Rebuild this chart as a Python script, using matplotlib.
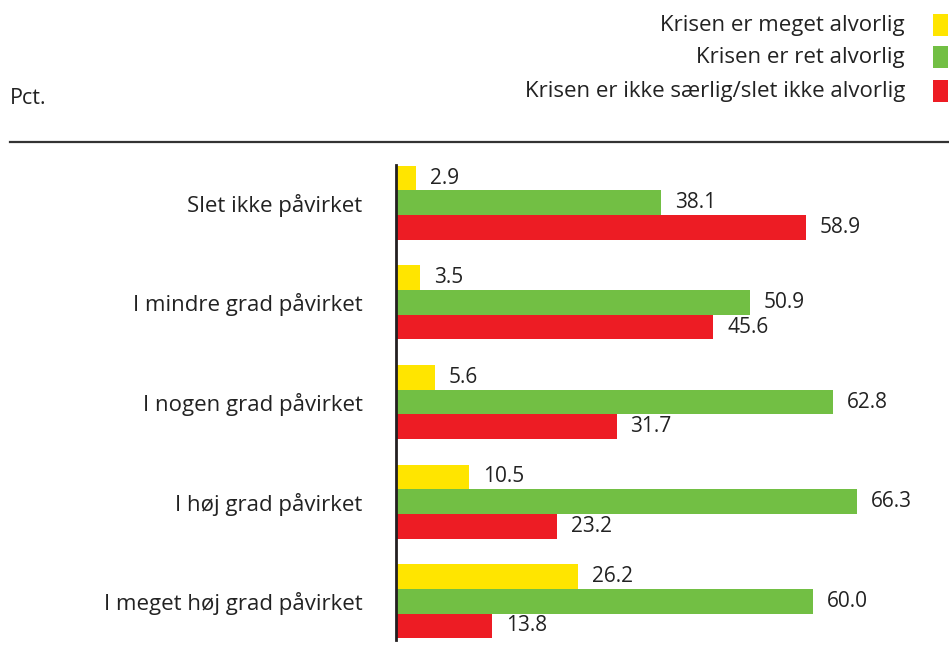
import matplotlib.pyplot as plt
from matplotlib.patches import Rectangle
from matplotlib.lines import Line2D

plt.rcParams['font.family'] = ['Open Sans', 'DejaVu Sans']

categories = ['Slet ikke påvirket', 'I mindre grad påvirket', 'I nogen grad påvirket',
              'I høj grad påvirket', 'I meget høj grad påvirket']
series_names = ['Krisen er meget alvorlig', 'Krisen er ret alvorlig',
                'Krisen er ikke særlig/slet ikke alvorlig']
meget = [2.9, 3.5, 5.6, 10.5, 26.2]
ret = [38.1, 50.9, 62.8, 66.3, 60.0]
ikke = [58.9, 45.6, 31.7, 23.2, 13.8]
colors = ['#FFE500', '#72BF44', '#ED1C24']

W, H = 949, 657
fig = plt.figure(figsize=(W / 100, H / 100), dpi=100)
ax = fig.add_axes([396 / W, 1 - 640 / H, 1 - 396 / W, 475 / H])

bh = 0.248
series = [meget, ret, ikke]
for k, vals in enumerate(series):
    for i, v in enumerate(vals):
        y = i + (k - 1) * bh
        ax.barh(y, v, height=bh, color=colors[k], linewidth=0)
        ax.text(v + 2.0, y, '{:.1f}'.format(v), va='center', ha='left',
                fontsize=15, color='#222222')

ax.set_xlim(0, 79.5)
ax.set_ylim(4.39, -0.38)
ax.set_yticks(range(len(categories)))
ax.set_yticklabels(categories, fontsize=16, color='#222222')
ax.tick_params(axis='y', length=0, pad=24)
ax.set_xticks([])
for s in ['top', 'right', 'bottom']:
    ax.spines[s].set_visible(False)
ax.spines['left'].set_linewidth(2)
ax.spines['left'].set_color('#231F20')

# header: unit, rule and legend
fig.text(10 / W, 1 - 98 / H, 'Pct.', fontsize=15.5, color='#222222', ha='left', va='center')
fig.add_artist(Line2D([10 / W, 1.0], [1 - 142 / H, 1 - 142 / H], color='#333333',
                      linewidth=1.6, transform=fig.transFigure))
ly = [25, 57, 91]
for k, name in enumerate(series_names):
    fig.text(905 / W, 1 - ly[k] / H, name, fontsize=16, color='#222222',
             ha='right', va='center')
    fig.add_artist(Rectangle((933 / W, 1 - (ly[k] + 11) / H), 15 / W, 22 / H,
                             color=colors[k], transform=fig.transFigure, linewidth=0))

fig.savefig('out.png', dpi=100)
